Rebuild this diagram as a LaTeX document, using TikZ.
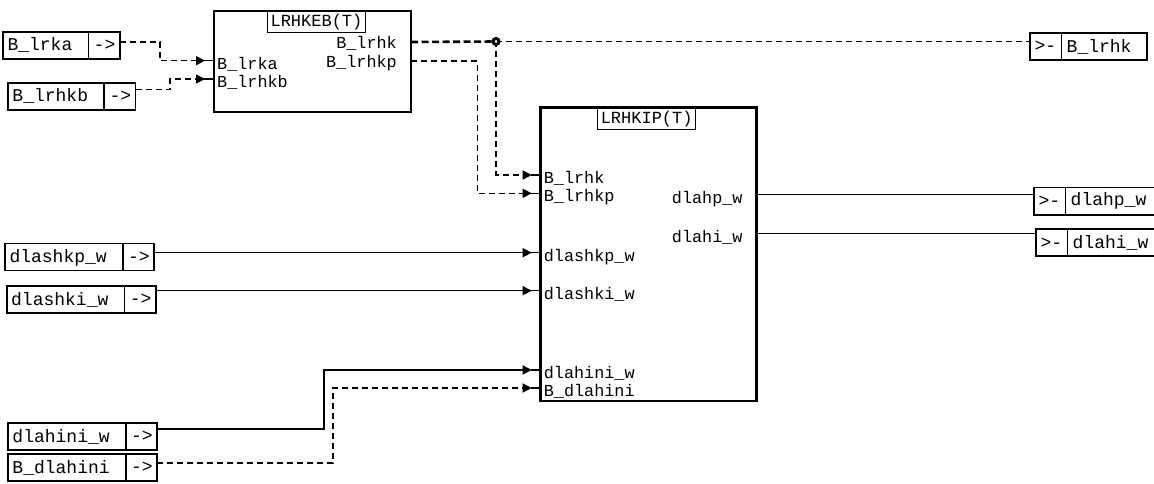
\documentclass[tikz,border=0pt]{standalone}
\usepackage{fontspec}
\setmonofont{Liberation Mono}
\usetikzlibrary{arrows.meta, shapes.multipart}
\newcommand{\gap}{\hphantom{x}}

\begin{document}
\begin{tikzpicture}[x=1pt, y=-1pt, >={Triangle[length=9pt,width=9pt]},
    block/.style={draw, line width=2.6pt, anchor=north west, inner sep=0pt, outer sep=0pt},
    title/.style={draw, line width=0.8pt, anchor=north, yshift=-0.5pt, font=\ttfamily\fontsize{17}{17}\selectfont,
        inner xsep=3pt, inner ysep=2.5pt, text height=12.5pt, text depth=3.5pt},
    iobox/.style={draw, line width=1.6pt, rectangle split, rectangle split horizontal, rectangle split parts=2,
        anchor=north west, outer sep=0pt, font=\ttfamily\fontsize{18}{18}\selectfont,
        inner xsep=4.5pt, inner ysep=5pt, text height=14pt, text depth=3pt},
    inlbl/.style={anchor=base west, font=\ttfamily\fontsize{16.8}{16.8}\selectfont, inner sep=1pt, xshift=2pt, yshift=-8.5pt},
    outlbl/.style={anchor=base east, font=\ttfamily\fontsize{16.8}{16.8}\selectfont, inner sep=1pt, xshift=-13pt, yshift=-7pt},
    sig/.style={line width=1.5pt},
    dsig/.style={line width=1.5pt, dash pattern=on 6pt off 4pt},
    bsig/.style={line width=2.6pt, dash pattern=on 7pt off 3.5pt},
    inwire/.style={->, shorten >=9pt},
    junc/.style={circle, draw, fill=white, line width=3pt, inner sep=0pt, minimum size=6pt}]

    \path[use as bounding box, fill=white] (0,0) rectangle (1154,484);

    % Blocks
    \node[block, minimum width=197pt, minimum height=101pt] (keb) at (214,11) {};
    \node[title, xshift=4pt] (kebtitle) at (keb.north) {LRHKEB(T)};
    \node[block, minimum width=216pt, minimum height=293.7pt] (kip) at (540.7,107.3) {};
    \node[title, xshift=-2pt] (kiptitle) at (kip.north) {LRHKIP(T)};

    % Pins
    \coordinate (keb-a) at (214,60.7);
    \coordinate (keb-b) at (214,79);
    \coordinate (keb-k) at (411,42);
    \coordinate (keb-kp) at (411,61);
    \coordinate (kip-k) at (540.7,175);
    \coordinate (kip-kp) at (540.7,193.3);
    \coordinate (kip-shkp) at (540.7,252.7);
    \coordinate (kip-shki) at (540.7,290.7);
    \coordinate (kip-hini) at (540.7,370);
    \coordinate (kip-bhini) at (540.7,388);
    \coordinate (kip-hp) at (756.7,194.3);
    \coordinate (kip-hi) at (756.7,233.3);
    \coordinate (jk) at (496,41.5);

    \node[inlbl] (la) at (keb-a) {B\_lrka};
    \node[inlbl] (lb) at (keb-b) {B\_lrhkb};
    \node[outlbl] (lk) at (keb-k) {B\_lrhk};
    \node[outlbl] (lkp) at (keb-kp) {B\_lrhkp};
    \node[inlbl] (lk2) at (kip-k) {B\_lrhk};
    \node[inlbl] (lkp2) at (kip-kp) {B\_lrhkp};
    \node[inlbl] (lshkp) at (kip-shkp) {dlashkp\_w};
    \node[inlbl] (lshki) at (kip-shki) {dlashki\_w};
    \node[inlbl] (lhini) at (kip-hini) {dlahini\_w};
    \node[inlbl] (lbhini) at (kip-bhini) {B\_dlahini};
    \node[outlbl, yshift=-2pt] (lhp) at (kip-hp) {dlahp\_w};
    \node[outlbl, yshift=-2pt] (lhi) at (kip-hi) {dlahi\_w};

    % Inputs and outputs
    \node[iobox] (lrka) at (3,32) {B\_lrka\gap\nodepart{two}->};
    \node[iobox] (lrhkb) at (8,83) {B\_lrhkb\gap\nodepart{two}->};
    \node[iobox] (shkp) at (5,243.3) {dlashkp\_w\gap\nodepart{two}->};
    \node[iobox] (shki) at (6.7,286) {dlashki\_w\gap\nodepart{two}->};
    \node[iobox] (hini) at (8,423) {dlahini\_w\gap\nodepart{two}->};
    \node[iobox] (bhini) at (8,454) {B\_dlahini\gap\nodepart{two}->};
    \node[iobox] (outk) at (1030,33) {>-\nodepart{two}B\_lrhk\gap};
    \node[iobox] (outhp) at (1034,187.3) {>-\nodepart{two}dlahp\_w\gap};
    \node[iobox] (outhi) at (1036,229) {>-\nodepart{two}dlahi\_w\gap};

    % Wires
    \foreach \p in {keb-a,keb-b,kip-k,kip-kp,kip-shkp,kip-shki,kip-hini,kip-bhini}
        \draw[sig] (\p) -- ++(-10,0);
    \draw[dsig, inwire] (lrka.east |- 0,42) -- (160,42) |- (keb-a);
    \draw[dsig, inwire] (lrhkb.east |- 0,89.3) -- (170,89.3) |- (keb-b);
    \draw[bsig] (keb-k) -- (jk);
    \draw[dsig] (jk) -- (outk.west |- jk);
    \draw[dsig, inwire] (jk) |- (kip-k);
    \draw[dsig, inwire] (keb-kp) -- (477.3,61) |- (kip-kp);
    \draw[sig, inwire] (shkp.east |- kip-shkp) -- (kip-shkp);
    \draw[sig, inwire] (shki.east |- kip-shki) -- (kip-shki);
    \draw[sig, inwire] (hini.east |- 0,429) -- (324,429) |- (kip-hini);
    \draw[dsig, inwire] (bhini.east |- 0,463) -- (333,463) |- (kip-bhini);
    \draw[sig] (kip-hp) -- (outhp.west |- kip-hp);
    \draw[sig] (kip-hi) -- (outhi.west |- kip-hi);
    \node[junc] (dot) at (jk) {};
\end{tikzpicture}
\end{document}
